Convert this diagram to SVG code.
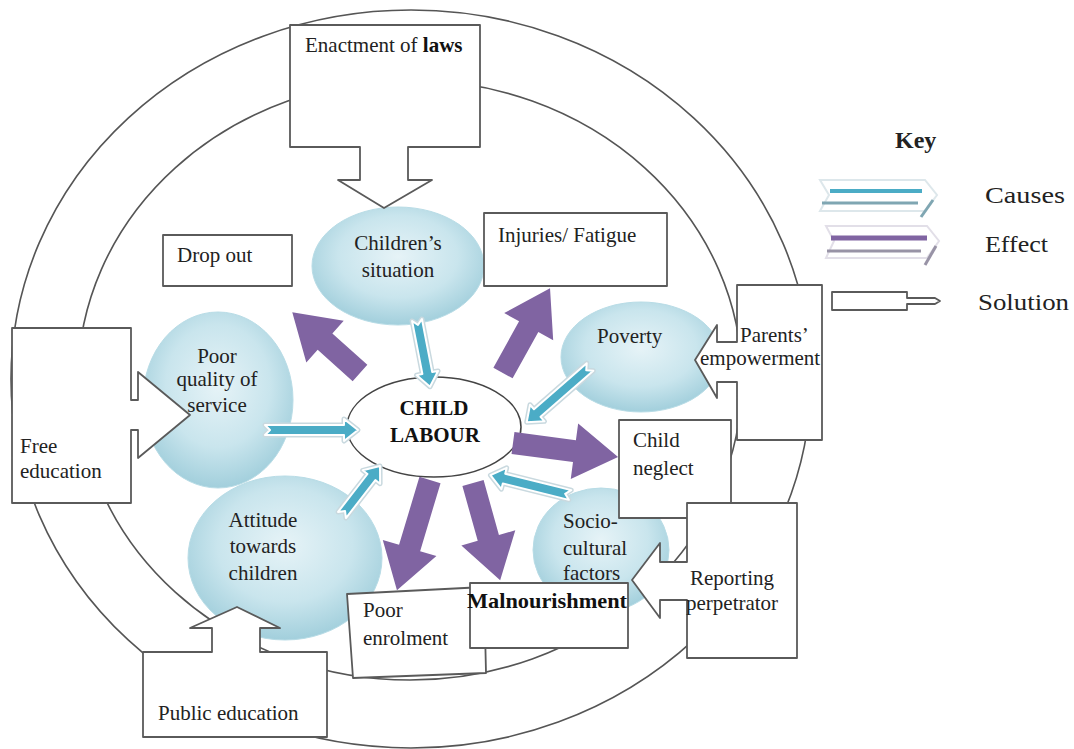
<svg xmlns="http://www.w3.org/2000/svg" width="1074" height="749" viewBox="0 0 1074 749">
  <defs>
    <radialGradient id="bubble" cx="0.5" cy="0.42" r="0.58">
      <stop offset="0" stop-color="#e6f3f7"/>
      <stop offset="0.6" stop-color="#c9e5ed"/>
      <stop offset="1" stop-color="#a2cfdc"/>
    </radialGradient>
    <style>
      .ring { fill: none; stroke: #555; stroke-width: 1.6; }
      .bubble { fill: url(#bubble); stroke: #b8dce6; stroke-width: 1; }
      .box { fill: #fff; stroke: #5a5a5a; stroke-width: 1.8; stroke-linejoin: round; }
      .core { fill: #fff; stroke: #444; stroke-width: 1.6; }
      .lbl { font-family: "Liberation Serif", "Times New Roman", serif; font-size: 21px; fill: #222; }
      .bold { font-weight: bold; fill: #111; }
      .mid { text-anchor: middle; }
      .key { font-family: "Liberation Serif", "Times New Roman", serif; font-size: 24px; fill: #222; }
      .halo { fill: #c9d9df; stroke: #c9d9df; stroke-width: 5; stroke-linejoin: round; }
      .cause { fill: #4bacc6; stroke: #fff; stroke-width: 2; stroke-linejoin: round; }
      .effect { fill: #8064a2; }
    </style>
  </defs>

  <rect width="1074" height="749" fill="#fff"/>

  <!-- double ring joining the solution boxes -->
  <g id="ring">
    <ellipse class="ring" cx="411" cy="379" rx="400" ry="369"/>
    <ellipse class="ring" cx="410" cy="380" rx="332" ry="300"/>
  </g>

  <!-- cause bubbles -->
  <g id="poor-quality">
    <ellipse class="bubble" cx="218" cy="400" rx="75" ry="88"/>
    <text class="lbl mid" x="217" y="363">Poor</text>
    <text class="lbl mid" x="217" y="386">quality of</text>
    <text class="lbl mid" x="217" y="412">service</text>
  </g>
  <g id="attitude">
    <ellipse class="bubble" cx="285" cy="558" rx="97" ry="82"/>
    <text class="lbl mid" x="263" y="527">Attitude</text>
    <text class="lbl mid" x="263" y="553">towards</text>
    <text class="lbl mid" x="263" y="580">children</text>
  </g>
  <g id="childrens-situation">
    <ellipse class="bubble" cx="398" cy="266" rx="86" ry="59"/>
    <text class="lbl mid" x="398" y="250">Children’s</text>
    <text class="lbl mid" x="398" y="277">situation</text>
  </g>
  <g id="poverty">
    <ellipse class="bubble" cx="641" cy="357" rx="80" ry="55"/>
    <text class="lbl" x="597" y="343">Poverty</text>
  </g>
  <g id="socio-cultural">
    <ellipse class="bubble" cx="601" cy="550" rx="68" ry="62"/>
    <text class="lbl" x="563" y="528">Socio-</text>
    <text class="lbl" x="563" y="555">cultural</text>
    <text class="lbl" x="563" y="580">factors</text>
  </g>

  <!-- central problem -->
  <g id="child-labour">
    <ellipse class="core" cx="434" cy="427" rx="87" ry="50"/>
    <text class="lbl bold mid" x="434" y="415">CHILD</text>
    <text class="lbl bold mid" x="435" y="442">LABOUR</text>
  </g>

  <!-- effect boxes -->
  <g id="drop-out">
    <rect class="box" x="163" y="235" width="129" height="51"/>
    <text class="lbl" x="177" y="262">Drop out</text>
  </g>
  <g id="injuries">
    <rect class="box" x="484" y="213" width="183" height="73"/>
    <text class="lbl" x="498" y="242">Injuries/ Fatigue</text>
  </g>
  <g id="child-neglect">
    <rect class="box" x="619" y="420" width="112" height="98"/>
    <text class="lbl" x="633" y="447">Child</text>
    <text class="lbl" x="633" y="475">neglect</text>
  </g>
  <g id="poor-enrolment">
    <polygon class="box" points="347,594 484,587 486,673 353,678"/>
    <text class="lbl" x="363" y="617">Poor</text>
    <text class="lbl" x="363" y="645">enrolment</text>
  </g>
  <g id="malnourishment">
    <rect class="box" x="470" y="583" width="158" height="65" stroke="#333"/>
    <text class="lbl bold" x="467" y="608" textLength="160" lengthAdjust="spacingAndGlyphs">Malnourishment</text>
  </g>

  <!-- solution callouts -->
  <g id="enactment">
    <path class="box" d="M290,25 H480 V147 H408 V180 H432 L384,208 L338,180 H360 V147 H290 Z"/>
    <text class="lbl" x="305" y="52">Enactment of <tspan class="bold" fill="#000">laws</tspan></text>
  </g>
  <g id="free-education">
    <path class="box" d="M12,328 H131 V400 H138 V372 L190,415 L138,458 V430 H131 V503 H12 Z"/>
    <text class="lbl" x="20" y="453">Free</text>
    <text class="lbl" x="20" y="478">education</text>
  </g>
  <g id="public-education">
    <path class="box" d="M143,652 H212 V628 H190 L237,607 L280,628 H260 V652 H327 V737 H143 Z"/>
    <text class="lbl" x="158" y="720">Public education</text>
  </g>
  <g id="parents-empowerment">
    <path class="box" d="M737,285 H822 V440 H737 V382 H717 V398 L695,360 L717,325 V342 H737 Z"/>
    <text class="lbl" x="740" y="342">Parents’</text>
    <text class="lbl" x="700" y="365">empowerment</text>
  </g>
  <g id="reporting">
    <path class="box" d="M687,503 H797 V658 H687 V600 H660 V618 L632,580 L660,543 V562 H687 Z"/>
    <text class="lbl" x="690" y="585">Reporting</text>
    <text class="lbl" x="686" y="610">perpetrator</text>
  </g>

  <!-- connectors: causes (teal) into the centre, effects (purple) out of it -->
  <g id="connectors">
    <g transform="translate(417,320) rotate(79)">
      <path class="halo" d="M0,-5 H54 V-11 L68,0 L54,11 V5 H0 L5,0 Z"/>
      <path class="cause" d="M0,-5 H54 V-11 L68,0 L54,11 V5 H0 L5,0 Z"/>
    </g>
    <g transform="translate(265,430)">
      <path class="halo" d="M0,-5 H79 V-11 L93,0 L79,11 V5 H0 L5,0 Z"/>
      <path class="cause" d="M0,-5 H79 V-11 L93,0 L79,11 V5 H0 L5,0 Z"/>
    </g>
    <g transform="translate(342,515) rotate(-52.2)">
      <path class="halo" d="M0,-5 H48 V-11 L62,0 L48,11 V5 H0 L5,0 Z"/>
      <path class="cause" d="M0,-5 H48 V-11 L62,0 L48,11 V5 H0 L5,0 Z"/>
    </g>
    <g transform="translate(590,367) rotate(138.9)">
      <path class="halo" d="M0,-5 H70 V-11 L84,0 L70,11 V5 H0 L5,0 Z"/>
      <path class="cause" d="M0,-5 H70 V-11 L84,0 L70,11 V5 H0 L5,0 Z"/>
    </g>
    <g transform="translate(570,495) rotate(-166)">
      <path class="halo" d="M0,-5 H68 V-11 L82,0 L68,11 V5 H0 L5,0 Z"/>
      <path class="cause" d="M0,-5 H68 V-11 L82,0 L68,11 V5 H0 L5,0 Z"/>
    </g>

    <path class="effect" transform="translate(360,373) rotate(-138.1)" d="M0,-11 H47 V-28 L91,0 L47,28 V11 H0 Z"/>
    <path class="effect" transform="translate(503,373) rotate(-61)" d="M0,-11 H53 V-28 L97,0 L53,28 V11 H0 Z"/>
    <path class="effect" transform="translate(513,443) rotate(7.6)" d="M0,-11 H62 V-28 L106,0 L62,28 V11 H0 Z"/>
    <path class="effect" transform="translate(430,480) rotate(106.7)" d="M0,-11 H71 V-28 L115,0 L71,28 V11 H0 Z"/>
    <path class="effect" transform="translate(473,483) rotate(74.4)" d="M0,-11 H57 V-28 L101,0 L57,28 V11 H0 Z"/>
  </g>

  <!-- legend -->
  <g id="key">
    <text class="key bold" x="895" y="148" font-size="23">Key</text>
    <path d="M820,180 H925 L937,195 L925,211 H820 L829,195 Z" fill="#fff" stroke="#dde7eb" stroke-width="2"/>
    <line x1="830" y1="191" x2="922" y2="191" stroke="#4bacc6" stroke-width="4"/>
    <line x1="822" y1="203" x2="918" y2="203" stroke="#7fa6b2" stroke-width="3"/>
    <line x1="933" y1="200" x2="921" y2="217" stroke="#7fa6b2" stroke-width="3"/>
    <text class="key" x="985" y="203" textLength="80" lengthAdjust="spacingAndGlyphs">Causes</text>

    <path d="M826,226 H927 L939,241 L927,258 H826 L834,241 Z" fill="#fff" stroke="#e2dfe8" stroke-width="2"/>
    <line x1="831" y1="238" x2="927" y2="238" stroke="#8064a2" stroke-width="5"/>
    <line x1="827" y1="251" x2="921" y2="251" stroke="#9893a6" stroke-width="3"/>
    <line x1="936" y1="246" x2="925" y2="265" stroke="#9893a6" stroke-width="3"/>
    <text class="key" x="985" y="252" textLength="63" lengthAdjust="spacingAndGlyphs">Effect</text>

    <path class="box" d="M832,292 H907 V298 H935 L940,301 L935,304 H907 V310 H832 Z" stroke-width="1.5"/>
    <text class="key" x="978" y="310" textLength="91" lengthAdjust="spacingAndGlyphs">Solution</text>
  </g>
</svg>
